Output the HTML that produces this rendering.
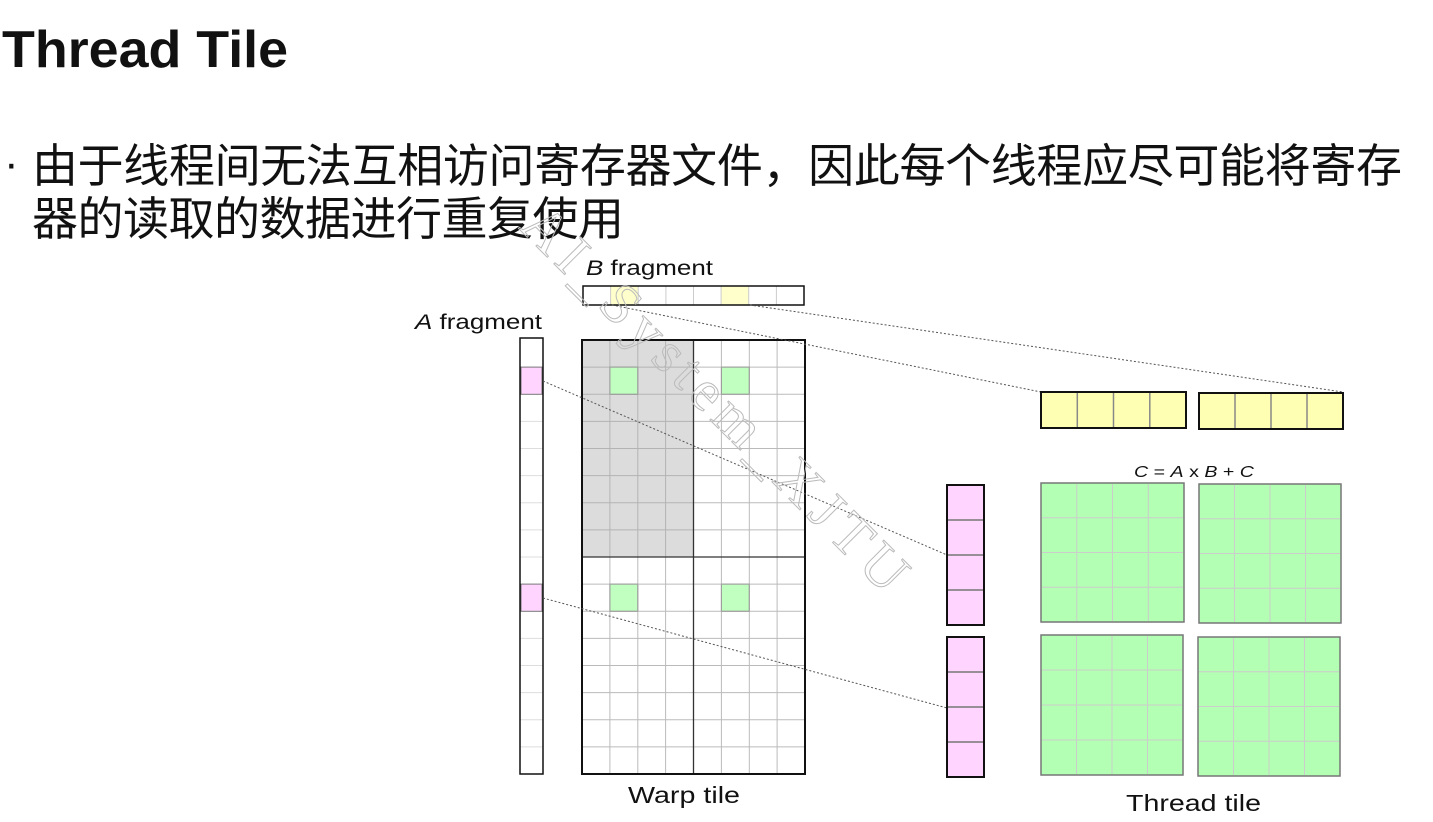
<!DOCTYPE html>
<html><head><meta charset="utf-8"><style>
html,body{margin:0;padding:0;background:#fff;width:1433px;height:822px;overflow:hidden}
svg{display:block}
</style></head><body>
<svg width="1433" height="822" xmlns="http://www.w3.org/2000/svg" font-family="'Liberation Sans','Noto Sans CJK SC',sans-serif">
<text x="2" y="67" font-size="52" font-weight="bold" fill="#111" textLength="286" lengthAdjust="spacingAndGlyphs">Thread Tile</text>
<text x="4" y="178" font-size="44" fill="#111">·</text>
<text x="32" y="182" font-size="46" fill="#111" textLength="1370" font-family="'Noto Sans CJK SC',sans-serif">由于线程间无法互相访问寄存器文件，因此每个线程应尽可能将寄存</text>
<text x="32" y="235" font-size="46" fill="#111" textLength="592" font-family="'Noto Sans CJK SC',sans-serif">器的读取的数据进行重复使用</text>

<!-- labels -->
<text x="586" y="275" font-size="21" fill="#111" textLength="127" lengthAdjust="spacingAndGlyphs"><tspan font-style="italic">B</tspan> fragment</text>
<text x="415" y="329" font-size="21" fill="#111" textLength="127" lengthAdjust="spacingAndGlyphs"><tspan font-style="italic">A</tspan> fragment</text>
<text x="628" y="803" font-size="23" fill="#111" textLength="112" lengthAdjust="spacingAndGlyphs">Warp tile</text>
<text x="1126" y="811" font-size="23" fill="#111" textLength="135" lengthAdjust="spacingAndGlyphs">Thread tile</text>
<text x="1134" y="477" font-size="16" fill="#111" textLength="120" lengthAdjust="spacingAndGlyphs"><tspan font-style="italic">C</tspan> = <tspan font-style="italic">A</tspan> x <tspan font-style="italic">B</tspan> + <tspan font-style="italic">C</tspan></text>

<!-- B fragment -->
<rect x="583" y="286" width="221" height="19" fill="#fff"/>
<rect x="610.6" y="286" width="27.6" height="19" fill="#ffffcc"/>
<rect x="721.1" y="286" width="27.6" height="19" fill="#ffffcc"/>
<g stroke="#ccc" stroke-width="1">
<line x1="610.6" y1="286" x2="610.6" y2="305"/><line x1="638.2" y1="286" x2="638.2" y2="305"/><line x1="665.9" y1="286" x2="665.9" y2="305"/><line x1="693.5" y1="286" x2="693.5" y2="305"/><line x1="721.1" y1="286" x2="721.1" y2="305"/><line x1="748.7" y1="286" x2="748.7" y2="305"/><line x1="776.4" y1="286" x2="776.4" y2="305"/>
</g>
<rect x="583" y="286" width="221" height="19" fill="none" stroke="#111" stroke-width="1.5"/>

<!-- A fragment -->
<rect x="520" y="338" width="23" height="436" fill="#fff"/>
<rect x="521" y="367.1" width="21" height="27.2" fill="#ffd5ff" stroke="#777"/>
<rect x="521" y="584.1" width="21" height="27.2" fill="#ffd5ff" stroke="#777"/>
<g stroke="#ddd" stroke-width="1">
<line x1="520" x2="543" y1="421.4" y2="421.4"/><line x1="520" x2="543" y1="448.5" y2="448.5"/><line x1="520" x2="543" y1="475.6" y2="475.6"/><line x1="520" x2="543" y1="502.8" y2="502.8"/><line x1="520" x2="543" y1="529.9" y2="529.9"/><line x1="520" x2="543" y1="557" y2="557"/><line x1="520" x2="543" y1="638.4" y2="638.4"/><line x1="520" x2="543" y1="665.5" y2="665.5"/><line x1="520" x2="543" y1="692.6" y2="692.6"/><line x1="520" x2="543" y1="719.8" y2="719.8"/><line x1="520" x2="543" y1="746.9" y2="746.9"/>
</g>
<rect x="520" y="338" width="23" height="436" fill="none" stroke="#111" stroke-width="1.5"/>

<!-- Warp tile -->
<rect x="582" y="340" width="223" height="434" fill="#fff"/>
<rect x="582" y="340" width="111.5" height="217" fill="#dcdcdc"/>
<rect x="609.9" y="367.1" width="27.9" height="27.2" fill="#c0ffc0" stroke="#777"/>
<rect x="721.4" y="367.1" width="27.9" height="27.2" fill="#c0ffc0" stroke="#777"/>
<rect x="609.9" y="584.1" width="27.9" height="27.2" fill="#c0ffc0" stroke="#777"/>
<rect x="721.4" y="584.1" width="27.9" height="27.2" fill="#c0ffc0" stroke="#777"/>
<g stroke="#aaa" stroke-width="1" opacity="0.8">
<line y1="340" y2="774" x1="609.9" x2="609.9"/><line y1="340" y2="774" x1="637.8" x2="637.8"/><line y1="340" y2="774" x1="665.6" x2="665.6"/><line y1="340" y2="774" x1="721.4" x2="721.4"/><line y1="340" y2="774" x1="749.3" x2="749.3"/><line y1="340" y2="774" x1="777.1" x2="777.1"/>
<line x1="582" x2="805" y1="367.1" y2="367.1"/><line x1="582" x2="805" y1="394.3" y2="394.3"/><line x1="582" x2="805" y1="421.4" y2="421.4"/><line x1="582" x2="805" y1="448.5" y2="448.5"/><line x1="582" x2="805" y1="475.6" y2="475.6"/><line x1="582" x2="805" y1="502.8" y2="502.8"/><line x1="582" x2="805" y1="529.9" y2="529.9"/><line x1="582" x2="805" y1="584.1" y2="584.1"/><line x1="582" x2="805" y1="611.3" y2="611.3"/><line x1="582" x2="805" y1="638.4" y2="638.4"/><line x1="582" x2="805" y1="665.5" y2="665.5"/><line x1="582" x2="805" y1="692.6" y2="692.6"/><line x1="582" x2="805" y1="719.8" y2="719.8"/><line x1="582" x2="805" y1="746.9" y2="746.9"/>
</g>
<line x1="693.5" y1="340" x2="693.5" y2="774" stroke="#333" stroke-width="1.3"/>
<line x1="582" y1="557" x2="805" y2="557" stroke="#333" stroke-width="1.3"/>
<rect x="582" y="340" width="223" height="434" fill="none" stroke="#111" stroke-width="2"/>

<!-- dotted connectors -->
<g stroke="#555" stroke-width="1" stroke-dasharray="2,2" fill="none">
<line x1="612" y1="305" x2="1041" y2="392"/>
<line x1="750" y1="305" x2="1343" y2="392"/>
<line x1="543" y1="381" x2="947" y2="555"/>
<line x1="543" y1="598" x2="947" y2="708"/>
</g>

<!-- Yellow bars -->
<g stroke="#888" stroke-width="1.5">
<rect x="1041" y="392" width="145" height="36" fill="#ffffb3"/>
<line x1="1077.3" y1="392" x2="1077.3" y2="428"/><line x1="1113.5" y1="392" x2="1113.5" y2="428"/><line x1="1149.8" y1="392" x2="1149.8" y2="428"/>
<rect x="1199" y="393" width="144" height="36" fill="#ffffb3"/>
<line x1="1235" y1="393" x2="1235" y2="429"/><line x1="1271" y1="393" x2="1271" y2="429"/><line x1="1307" y1="393" x2="1307" y2="429"/>
</g>
<rect x="1041" y="392" width="145" height="36" fill="none" stroke="#111" stroke-width="2"/>
<rect x="1199" y="393" width="144" height="36" fill="none" stroke="#111" stroke-width="2"/>

<!-- Pink bars -->
<g stroke="#777" stroke-width="1.5">
<rect x="947" y="485" width="37" height="140" fill="#ffd5ff"/>
<line x1="947" x2="984" y1="520" y2="520"/><line x1="947" x2="984" y1="555" y2="555"/><line x1="947" x2="984" y1="590" y2="590"/>
<rect x="947" y="637" width="37" height="140" fill="#ffd5ff"/>
<line x1="947" x2="984" y1="672" y2="672"/><line x1="947" x2="984" y1="707" y2="707"/><line x1="947" x2="984" y1="742" y2="742"/>
</g>
<rect x="947" y="485" width="37" height="140" fill="none" stroke="#111" stroke-width="2"/>
<rect x="947" y="637" width="37" height="140" fill="none" stroke="#111" stroke-width="2"/>

<!-- Green tiles -->
<g fill="#b3ffb3" stroke="#777" stroke-width="1.5">
<rect x="1041" y="483" width="143" height="139"/>
<rect x="1199" y="484" width="142" height="139"/>
<rect x="1041" y="635" width="142" height="140"/>
<rect x="1198" y="637" width="142" height="139"/>
</g>
<g stroke="#ccc" stroke-width="1">
<line x1="1076.8" x2="1076.8" y1="484" y2="621"/><line x1="1112.5" x2="1112.5" y1="484" y2="621"/><line x1="1148.3" x2="1148.3" y1="484" y2="621"/>
<line x1="1042" x2="1183" y1="517.8" y2="517.8"/><line x1="1042" x2="1183" y1="552.5" y2="552.5"/><line x1="1042" x2="1183" y1="587.3" y2="587.3"/>
<line x1="1234.5" x2="1234.5" y1="485" y2="622"/><line x1="1270" x2="1270" y1="485" y2="622"/><line x1="1305.5" x2="1305.5" y1="485" y2="622"/>
<line x1="1200" x2="1340" y1="518.8" y2="518.8"/><line x1="1200" x2="1340" y1="553.5" y2="553.5"/><line x1="1200" x2="1340" y1="588.3" y2="588.3"/>
<line x1="1076.5" x2="1076.5" y1="636" y2="774"/><line x1="1112" x2="1112" y1="636" y2="774"/><line x1="1147.5" x2="1147.5" y1="636" y2="774"/>
<line x1="1042" x2="1182" y1="670" y2="670"/><line x1="1042" x2="1182" y1="705" y2="705"/><line x1="1042" x2="1182" y1="740" y2="740"/>
<line x1="1233.5" x2="1233.5" y1="638" y2="775"/><line x1="1269" x2="1269" y1="638" y2="775"/><line x1="1304.5" x2="1304.5" y1="638" y2="775"/>
<line x1="1199" x2="1339" y1="671.8" y2="671.8"/><line x1="1199" x2="1339" y1="706.5" y2="706.5"/><line x1="1199" x2="1339" y1="741.3" y2="741.3"/>
</g>

<!-- watermark -->
<text x="0" y="0" font-size="58" fill="none" stroke="#bbb" stroke-width="1" font-family="'Liberation Serif',serif" transform="translate(518,228) rotate(45)" textLength="520">AI_System_XJTU</text>
</svg>
</body></html>
